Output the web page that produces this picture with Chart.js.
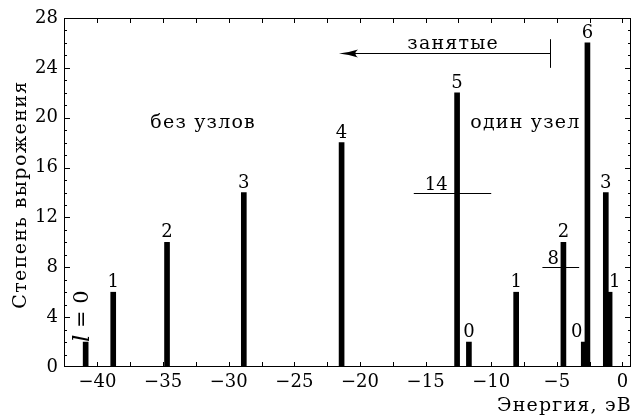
<!DOCTYPE html>
<html><head><meta charset="utf-8">
<script src="https://cdn.jsdelivr.net/npm/chart.js@4"></script>
<style>html,body{margin:0;padding:0;background:#fff}canvas{display:block}</style>
</head><body>
<canvas id="c" width="635" height="419"></canvas>
<script>
// ---- data ----
const energies   = [-40.9, -38.8, -34.7, -28.85, -21.4, -12.6, -11.7, -8.1, -4.5, -2.95, -2.67, -1.27, -0.98];
const degeneracy = [2, 6, 10, 14, 18, 22, 2, 6, 10, 2, 26, 14, 6];
const lLabels    = ['l = 0', '1', '2', '3', '4', '5', '0', '1', '2', '0', '6', '3', '1'];
const xTicks = [-40, -35, -30, -25, -20, -15, -10, -5, 0];
const yTicks = [0, 4, 8, 12, 16, 20, 24, 28];
// level lines (degeneracy totals): y value, x from, x to, label
const levelY = [14, 8];
const levelX0 = [-15.9, -6.1];
const levelX1 = [-10.0, -3.3];
const levelText = ['14', '8'];
// occupied arrow
const occArrow = {y: 25.2, from: -5.5, to: -21.6, capLo: 24.0, capHi: 26.3, text: 'занятые', textX: -12.9, textY: 26.05};
const regionText = [{t: 'без узлов', x: -31.95, y: 19.6}, {t: 'один узел', x: -7.4, y: 19.6}];
const xTitle = 'Энергия, эВ';
const yTitle = 'Степень вырожения';

const FONT = '"DejaVu Serif", "Liberation Serif", serif';
const FS = 18;
const WFS = 19;
const labelDx = [-3, 0, 0, 0, 0, 0, 0, 0, 0, -7, 0, 0, 5];
const levelDx = [11, 5];

const plugin = {
  id: 'deco',
  afterDatasetsDraw(chart) {
    const {ctx, chartArea: a, scales: {x, y}} = chart;
    ctx.save();
    ctx.fillStyle = '#000'; ctx.strokeStyle = '#000';
    // frame
    ctx.lineWidth = 1;
    ctx.strokeRect(a.left + 0.5, a.top + 0.5, a.right - a.left - 1, a.bottom - a.top - 1);
    // x ticks every 2.5 (top and bottom, inward)
    ctx.beginPath();
    for (let v = -40; v <= 0.01; v += 2.5) {
      const px = Math.round(x.getPixelForValue(v)) + 0.5;
      ctx.moveTo(px, a.bottom); ctx.lineTo(px, a.bottom - 5);
      ctx.moveTo(px, a.top); ctx.lineTo(px, a.top + 5);
    }
    // y ticks every 1 (left and right)
    for (let v = 1; v < 28; v++) {
      const py = Math.round(y.getPixelForValue(v)) + 0.5;
      const len = v % 4 === 0 ? 6 : 3;
      ctx.moveTo(a.left, py); ctx.lineTo(a.left + len, py);
      ctx.moveTo(a.right, py); ctx.lineTo(a.right - len, py);
    }
    ctx.stroke();

    // bar labels
    ctx.font = FS + 'px ' + FONT;
    ctx.textAlign = 'center'; ctx.textBaseline = 'alphabetic';
    energies.forEach((e, i) => {
      const px = x.getPixelForValue(e) + labelDx[i];
      const py = y.getPixelForValue(degeneracy[i]) - 5;
      if (i === 0) {
        ctx.save();
        ctx.translate(px, py + 5);
        ctx.rotate(-Math.PI / 2);
        ctx.textAlign = 'left'; ctx.textBaseline = 'middle';
        ctx.font = 'italic 23px ' + FONT;
        ctx.fillText('l', 0, 0);
        const w = ctx.measureText('l').width;
        ctx.font = '21px ' + FONT;
        ctx.fillText(' = 0', w, 0);
        ctx.restore();
      } else {
        ctx.fillText(lLabels[i], px, py);
      }
    });

    // level lines
    ctx.lineWidth = 1;
    levelY.forEach((lv, i) => {
      const py = Math.round(y.getPixelForValue(lv)) + 0.5;
      const x0 = x.getPixelForValue(levelX0[i]), x1 = x.getPixelForValue(levelX1[i]);
      ctx.beginPath(); ctx.moveTo(x0, py); ctx.lineTo(x1, py); ctx.stroke();
      ctx.textAlign = 'left';
      ctx.fillText(levelText[i], x0 + levelDx[i], py - 4);
    });

    // occupied arrow
    const ay = Math.round(y.getPixelForValue(occArrow.y)) + 0.5;
    const ax0 = x.getPixelForValue(occArrow.from), ax1 = x.getPixelForValue(occArrow.to);
    ctx.beginPath(); ctx.moveTo(ax0, ay); ctx.lineTo(ax1 + 8, ay); ctx.stroke();
    const cx = Math.round(ax0) + 0.5;
    ctx.beginPath(); ctx.moveTo(cx, y.getPixelForValue(occArrow.capHi)); ctx.lineTo(cx, y.getPixelForValue(occArrow.capLo)); ctx.stroke();
    ctx.beginPath();
    ctx.moveTo(ax1, ay);
    ctx.quadraticCurveTo(ax1 + 10, ay - 1, ax1 + 19, ay - 4);
    ctx.quadraticCurveTo(ax1 + 14, ay, ax1 + 19, ay + 4);
    ctx.quadraticCurveTo(ax1 + 10, ay + 1, ax1, ay);
    ctx.fill();

    // words
    ctx.font = WFS + 'px ' + FONT;
    ctx.letterSpacing = '1.2px';
    ctx.textAlign = 'center'; ctx.textBaseline = 'alphabetic';
    ctx.fillText(occArrow.text, x.getPixelForValue(occArrow.textX), y.getPixelForValue(occArrow.textY) + 7);
    ctx.textBaseline = 'middle';
    regionText.forEach(r => {
      ctx.fillText(r.t, x.getPixelForValue(r.x), y.getPixelForValue(r.y));
    });
    // axis titles
    ctx.textAlign = 'right'; ctx.textBaseline = 'middle';
    ctx.fillText(xTitle, a.right + 1, 406);
    ctx.save();
    ctx.letterSpacing = '1.4px';
    ctx.translate(21, (a.top + a.bottom) / 2 + 2);
    ctx.rotate(-Math.PI / 2);
    ctx.textAlign = 'center';
    ctx.fillText(yTitle, 0, 0);
    ctx.restore();
    ctx.restore();
  }
};

const minus = v => String(v).replace('-', '\u2212');

new Chart(document.getElementById('c'), {
  type: 'bar',
  data: {
    datasets: [{
      label: 'Степень вырожения',
      data: energies.map((e, i) => ({x: e, y: degeneracy[i]})),
      backgroundColor: '#000',
      borderWidth: 0,
      barThickness: 5
    }]
  },
  options: {
    responsive: false,
    animation: false,
    events: [],
    layout: {padding: {top: 18, right: 4, left: 0, bottom: 0}},
    plugins: {legend: {display: false}, tooltip: {enabled: false}},
    scales: {
      x: {
        type: 'linear', min: -42.55, max: 0.65, offset: false,
        afterBuildTicks: s => { s.ticks = xTicks.map(v => ({value: v})); },
        ticks: {includeBounds: false, color: '#000', font: {family: FONT, size: FS}, padding: 5, maxRotation: 0,
                callback: v => minus(v)},
        grid: {display: false, drawTicks: false, offset: false},
        border: {display: false},
        afterFit: s => { s.height = 52; }
      },
      y: {
        min: 0, max: 28,
        afterBuildTicks: s => { s.ticks = yTicks.map(v => ({value: v})); },
        ticks: {color: '#000', font: {family: FONT, size: FS}, padding: 6},
        grid: {display: false, drawTicks: false},
        border: {display: false},
        afterFit: s => { s.width = 64; }
      }
    }
  },
  plugins: [plugin]
});
</script>
</body></html>
